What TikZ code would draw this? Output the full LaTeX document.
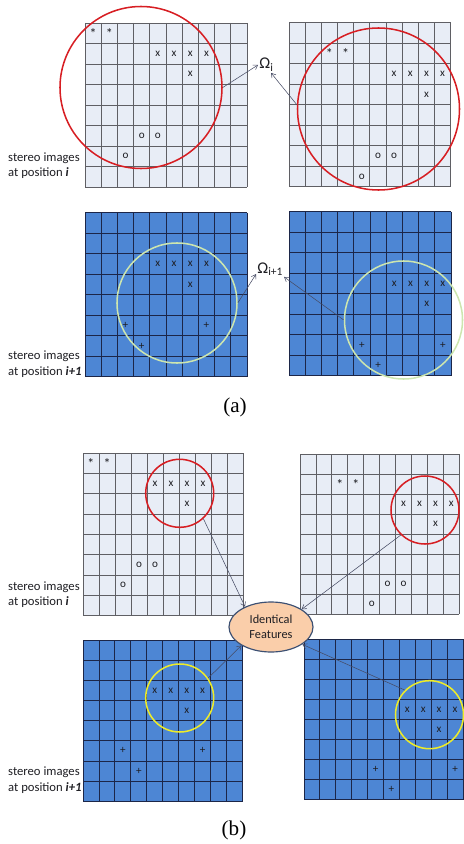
\documentclass[tikz,border=0pt]{standalone}
\usepackage{fontspec}
\setmainfont{Carlito}
\newfontfamily\capfont{Liberation Serif}
\usepackage{tikz}
\usetikzlibrary{shapes.geometric, arrows.meta, positioning, calc}
\definecolor{mydark}{RGB}{30,30,35}
\definecolor{imgpale}{RGB}{232,237,246}
\definecolor{gridgray}{RGB}{95,95,100}
\definecolor{imgblue}{RGB}{77,134,212}
\definecolor{gridnavy}{RGB}{28,38,72}
\definecolor{ringred}{RGB}{215,30,35}
\definecolor{ringgreen}{RGB}{205,230,175}
\definecolor{ringyellow}{RGB}{238,236,40}
\definecolor{bubblefill}{RGB}{250,206,170}
\definecolor{bubbleedge}{RGB}{60,80,115}
\definecolor{arrowgray}{RGB}{70,75,100}
\tikzset{
  feat/.style={font=\fontsize{9.5}{9.5}\selectfont, inner sep=0pt, text=mydark},
  redring/.style={circle, draw=ringred, line width=1.3pt, inner sep=0pt},
  greenring/.style={circle, draw=ringgreen, line width=1.3pt, inner sep=0pt},
  yellowring/.style={circle, draw=ringyellow, line width=1.3pt, inner sep=0pt},
  arrow/.style={-{Straight Barb[length=3.5pt,width=4.5pt]}, line width=0.45pt, color=arrowgray},
  poslabel/.style={anchor=west, align=left, inner sep=0pt, text=mydark,
    font=\fontsize{10.8}{13.2}\selectfont},
  omegalabel/.style={anchor=base west, inner sep=1pt, text=mydark,
    font=\fontsize{14}{14}\selectfont},
  featbubble/.style={ellipse, draw=bubbleedge, fill=bubblefill, line width=1pt,
    align=center, inner sep=0pt, minimum width=2.52cm, minimum height=1.5cm,
    font=\fontsize{10.5}{12.8}\selectfont, text=mydark},
  caption/.style={font=\capfont\fontsize{18}{18}\selectfont, inner sep=0pt}
}
% image grid: x, y, cell width, cell height, fill, lines
\newcommand{\imggrid}[6]{%
  \fill[#5] (#1,#2) rectangle ({#1+10*#3},{#2+8*#4});
  \foreach \k in {0,...,10} \draw[#6, line width=0.7pt] ({#1+\k*#3},#2) -- ++(0,{8*#4});
  \foreach \k in {0,...,8} \draw[#6, line width=0.7pt] (#1,{#2+\k*#4}) -- ++({10*#3},0);
}
% feature lists row/col/mark
\newcommand{\featsI}{0/0/\large*,0/1/\large*,1/4/x,1/5/x,1/6/x,1/7/x,2/6/x,5/3/o,5/4/o,6/2/o}
\newcommand{\featsII}{2/4/x,2/5/x,2/6/x,2/7/x,3/6/x,5/2/+,5/7/+,6/3/+}

\begin{document}
\begin{tikzpicture}[x=0.03cm, y=-0.03cm]
  \useasboundingbox (0,0) rectangle (463,844);

  % --- (a) POSITION i ---
  \imggrid{85}{23}{16.2}{20.5}{imgpale}{gridgray}
  \imggrid{289}{22.7}{16.17}{20.5}{imgpale}{gridgray}
  \foreach \r/\c/\m [count=\n] in \featsI {
    \node[feat] (aL\n) at ({85+(\c+0.5)*16.2},{23+(\r+0.5)*20.5}) {\m};
    \node[feat] (aR\n) at ({289+(\c+2.5)*16.17},{22.7+(\r+1.5)*20.5}) {\m};
  }
  \node[redring, minimum size=4.86cm] (ringAL) at (141,87.5) {};
  \node[redring, minimum size=4.86cm] (ringAR) at (378.5,109) {};
  \node[omegalabel] (omegaI) at (258,69) {Ω\textsubscript{i}};
  \draw[arrow] (ringAL.east) -- (omegaI.west);
  \draw[arrow] (ringAR.177) -- (omegaI.-60);
  \node[poslabel] (posA1) at (8,165.5) {stereo images\\at position \textbf{\textit{i}}};

  % --- (a) POSITION i+1 ---
  \imggrid{85}{212.7}{16.2}{20.5}{imgblue}{gridnavy}
  \imggrid{289}{211.7}{16.2}{20.5}{imgblue}{gridnavy}
  \foreach \r/\c/\m [count=\n] in \featsII {
    \node[feat] (bL\n) at ({85+(\c+0.5)*16.2},{212.7+(\r+0.5)*20.5}) {\m};
    \node[feat] (bR\n) at ({289+(\c+2.5)*16.2},{211.7+(\r+1.5)*20.5}) {\m};
  }
  \node[greenring, minimum size=3.6cm] (ringBL) at (177,303) {};
  \node[greenring, minimum size=3.54cm] (ringBR) at (403.5,320) {};
  \node[omegalabel] (omegaII) at (256,273) {Ω\textsubscript{i+1}};
  \draw[arrow] (ringBL.east) -- (omegaII.200);
  \draw[arrow] (ringBR.west) -- (omegaII.-30);
  \node[poslabel] (posA2) at (8,364.2) {stereo images\\at position \textbf{\textit{i+1}}};

  \node[caption] (capA) at (235,407) {(a)};

  % --- (b) POSITION i ---
  \imggrid{83}{453.3}{16}{20.3}{imgpale}{gridgray}
  \imggrid{300}{454}{15.93}{20.04}{imgpale}{gridgray}
  \foreach \r/\c/\m [count=\n] in \featsI {
    \node[feat] (cL\n) at ({83+(\c+0.5)*16},{453.3+(\r+0.5)*20.3}) {\m};
    \node[feat] (cR\n) at ({300+(\c+2.5)*15.93},{454+(\r+1.5)*20.04}) {\m};
  }
  \node[redring, minimum size=2.04cm] (ringCL) at (179.7,493.3) {};
  \node[redring, minimum size=2.04cm] (ringCR) at (425,510) {};
  \node[poslabel] (posB1) at (8,594.5) {stereo images\\at position \textbf{\textit{i}}};

  % --- (b) POSITION i+1 ---
  \imggrid{83}{640.7}{15.95}{20.04}{imgblue}{gridnavy}
  \imggrid{304}{639}{15.9}{20.1}{imgblue}{gridnavy}
  \foreach \r/\c/\m [count=\n] in \featsII {
    \node[feat] (dL\n) at ({83+(\c+0.5)*15.95},{640.7+(\r+0.5)*20.04}) {\m};
    \node[feat] (dR\n) at ({304+(\c+2.5)*15.9},{639+(\r+1.5)*20.1}) {\m};
  }
  \node[yellowring, minimum size=2.04cm] (ringDL) at (179.7,698) {};
  \node[yellowring, minimum size=2.04cm] (ringDR) at (429.5,714.7) {};
  \node[poslabel] (posB2) at (8,780) {stereo images\\at position \textbf{\textit{i+1}}};

  % --- IDENTICAL FEATURES ---
  \node[featbubble] (same) at (271,627) {Identical\\Features};
  \draw[arrow] (ringCL.-47) -- (same.142);
  \draw[arrow] (ringCR.-134) -- (same.30);
  \draw[arrow] (ringDL.35) -- (same.212);
  \draw[arrow] (ringDR.135) -- (same.-29);

  \node[caption] (capB) at (234,830) {(b)};
\end{tikzpicture}
\end{document}
